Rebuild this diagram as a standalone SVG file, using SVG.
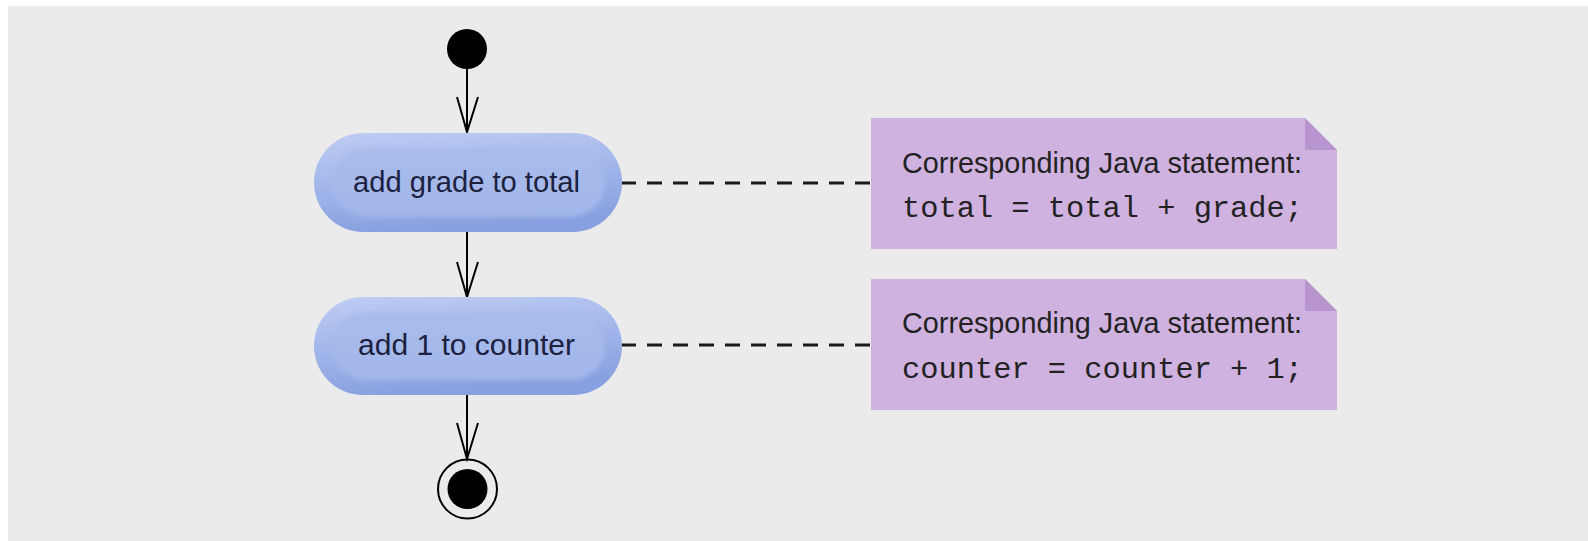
<svg xmlns="http://www.w3.org/2000/svg" width="1588" height="541" viewBox="0 0 1588 541">
  <defs>
    <linearGradient id="pillOuter" x1="0" y1="0" x2="0.25" y2="1">
      <stop offset="0" stop-color="#bfcdf3"/>
      <stop offset="0.5" stop-color="#a3b7eb"/>
      <stop offset="1" stop-color="#88a0df"/>
    </linearGradient>
    <linearGradient id="pillInner" x1="0" y1="0" x2="0" y2="1">
      <stop offset="0" stop-color="#a9bcec"/>
      <stop offset="1" stop-color="#a2b6ea"/>
    </linearGradient>
    <filter id="soft" x="-10%" y="-20%" width="120%" height="140%">
      <feGaussianBlur stdDeviation="2"/>
    </filter>
    <style>
      .pill-outer { fill: url(#pillOuter); }
      .pill-inner { fill: url(#pillInner); filter: url(#soft); }
      .pill-text { font-family: "Liberation Sans", Arial, sans-serif; font-size: 30px; fill: #1c2140; text-anchor: middle; }
      .note { fill: #cfb2e0; }
      .fold { fill: #b995d0; }
      .note-label { font-family: "Liberation Sans", Arial, sans-serif; font-size: 30px; fill: #222; }
      .note-code { font-family: "Liberation Mono", "Courier New", monospace; font-size: 30px; fill: #222; }
      .flow { stroke: #000; stroke-width: 2; fill: none; }
      .head { stroke: #000; stroke-width: 2; fill: none; stroke-linejoin: miter; }
      .anchor { stroke: #1a1a1a; stroke-width: 3; stroke-dasharray: 15 11; fill: none; }
    </style>
  </defs>

  <!-- canvas -->
  <rect x="0" y="0" width="1588" height="541" fill="#ffffff"/>
  <rect x="8" y="6" width="1580" height="535" fill="#ebebeb"/>

  <!-- connectors -->
  <g id="connectors">
    <line class="flow" x1="467" y1="66" x2="467" y2="132"/>
    <path class="head" d="M457,97 L467,132 L478,97"/>
    <line class="flow" x1="467" y1="232" x2="467" y2="297"/>
    <path class="head" d="M457,262 L467,297 L478,262"/>
    <line class="flow" x1="467" y1="395" x2="467" y2="459"/>
    <path class="head" d="M457,423 L467,459 L478,423"/>
    <line class="anchor" x1="621" y1="183" x2="871" y2="183"/>
    <line class="anchor" x1="621" y1="345" x2="871" y2="345"/>
  </g>

  <!-- initial state -->
  <g id="start">
    <circle cx="467" cy="49" r="20" fill="#000"/>
  </g>

  <!-- action: add grade to total -->
  <g id="action-add-grade">
    <rect class="pill-outer" x="314" y="133" width="308" height="99" rx="49.5" ry="49.5"/>
    <rect class="pill-inner" x="332" y="148" width="273" height="69" rx="34.5" ry="34.5"/>
    <text class="pill-text" x="466.5" y="192" textLength="227" lengthAdjust="spacingAndGlyphs">add grade to total</text>
  </g>

  <!-- action: add 1 to counter -->
  <g id="action-add-one">
    <rect class="pill-outer" x="314" y="297" width="308" height="98" rx="49" ry="49"/>
    <rect class="pill-inner" x="332" y="312" width="273" height="68" rx="34" ry="34"/>
    <text class="pill-text" x="466.5" y="355" textLength="217" lengthAdjust="spacingAndGlyphs">add 1 to counter</text>
  </g>

  <!-- final state -->
  <g id="end">
    <circle cx="467.5" cy="489" r="29.5" fill="none" stroke="#000" stroke-width="2"/>
    <circle cx="467.5" cy="489" r="20" fill="#000"/>
  </g>

  <!-- note: total statement -->
  <g id="note-total">
    <path class="note" d="M871,118 L1305,118 L1337,150 L1337,249 L871,249 Z"/>
    <path class="fold" d="M1305,118 L1305,150 L1337,150 Z"/>
    <text class="note-label" x="902" y="173" textLength="400" lengthAdjust="spacingAndGlyphs">Corresponding Java statement:</text>
    <text class="note-code" x="902" y="217" textLength="401" lengthAdjust="spacingAndGlyphs">total = total + grade;</text>
  </g>

  <!-- note: counter statement -->
  <g id="note-counter">
    <path class="note" d="M871,279 L1305,279 L1337,311 L1337,410 L871,410 Z"/>
    <path class="fold" d="M1305,279 L1305,311 L1337,311 Z"/>
    <text class="note-label" x="902" y="333" textLength="400" lengthAdjust="spacingAndGlyphs">Corresponding Java statement:</text>
    <text class="note-code" x="902" y="378" textLength="401" lengthAdjust="spacingAndGlyphs">counter = counter + 1;</text>
  </g>
</svg>
